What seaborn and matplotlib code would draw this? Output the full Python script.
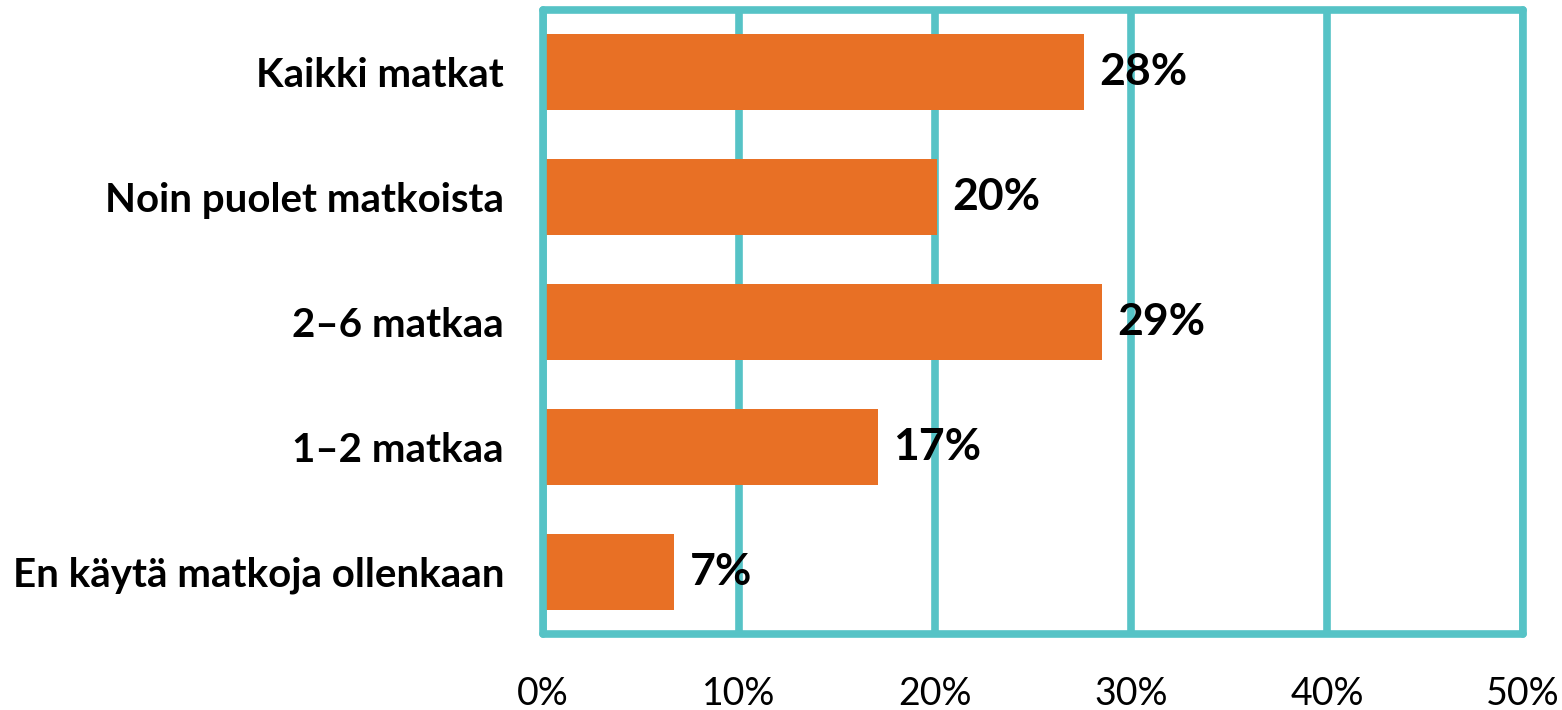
import pandas as pd
import matplotlib
matplotlib.use("Agg")
import matplotlib.pyplot as plt
import seaborn as sns
from matplotlib.ticker import FuncFormatter

# data
kategoriat = ["Kaikki matkat", "Noin puolet matkoista", "2–6 matkaa", "1–2 matkaa",
              "En käytä matkoja ollenkaan"]
osuudet = [27.6, 20.1, 28.5, 17.1, 6.7]
osuus_tekstit = ["28%", "20%", "29%", "17%", "7%"]
x_tikit = [0, 10, 20, 30, 40, 50]

ORANSSI = "#E87025"
TURKOOSI = "#56C3C6"

df = pd.DataFrame({"kategoria": kategoriat, "osuus": osuudet})

sns.set_style("white")
plt.rcParams["font.family"] = ["Lato", "DejaVu Sans"]
plt.rcParams["text.color"] = "black"
plt.rcParams["xtick.color"] = "black"
plt.rcParams["ytick.color"] = "black"

fig = plt.figure(figsize=(15.62, 7.10), dpi=100)
ax = fig.add_axes([0.3476, 0.107, 0.975 - 0.3476, 0.986 - 0.107])

sns.barplot(data=df, x="osuus", y="kategoria", orient="h", color=ORANSSI,
            width=0.61, saturation=1, linewidth=0, ax=ax, zorder=3)

ax.set_xlim(0, 50)
ax.set_ylim(4.5, -0.5)
ax.set_xticks(x_tikit)
ax.xaxis.set_major_formatter(FuncFormatter(lambda v, p: f"{v:.0f}%"))
ax.grid(axis="x", color=TURKOOSI, linewidth=5.5, zorder=1)
ax.set_axisbelow(True)
for s in ax.spines.values():
    s.set_visible(True)
    s.set_color(TURKOOSI)
    s.set_linewidth(5.5)
    s.set_capstyle("round")
    s.set_zorder(5)

ax.tick_params(axis="x", length=0, pad=30, labelsize=27, labelcolor="black")
ax.tick_params(axis="y", length=0, pad=28, labelsize=29, labelcolor="black")
for t in ax.get_yticklabels():
    t.set_fontweight("bold")
ax.set_xlabel("")
ax.set_ylabel("")

ax.bar_label(ax.containers[0], labels=osuus_tekstit, padding=11,
             fontsize=32, fontweight="bold", color="black", zorder=4)

fig.savefig("out.png", dpi=100)
